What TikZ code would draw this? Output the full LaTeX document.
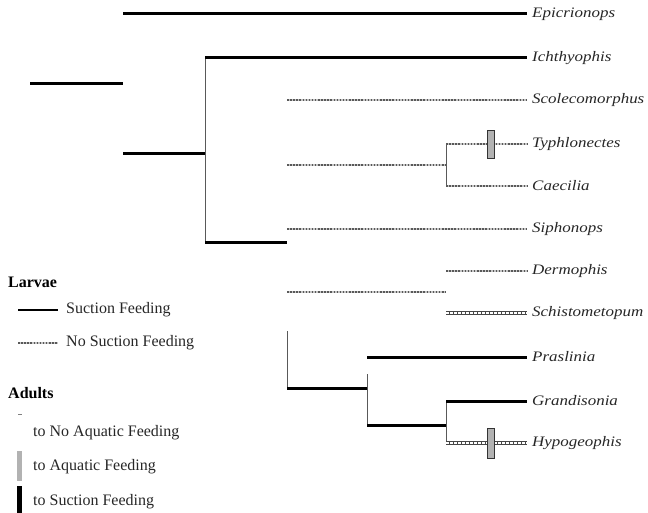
\documentclass[tikz,border=0pt]{standalone}
\usepackage{fontspec}
\setmainfont{Liberation Serif}
\newcommand{\wide}[1]{\scalebox{1.17}[1]{#1}}
\begin{document}
\begin{tikzpicture}[x=1pt,y=-1pt,
 suction/.style={line width=3pt, black},
 thinv/.style={line width=0.8pt, gray!70!black},
 nosuc/.style={line width=2.4pt, gray!45, postaction={draw, black!65, line width=2.4pt, dash pattern=on 1.5pt off 1.6pt}},
 hatch/.style={line width=4pt, gray!55!black, postaction={draw, white, line width=1.6pt, dash pattern=on 2.6pt off 1.4pt}},
 taxon/.style={anchor=west, font=\fontsize{14.5}{16}\selectfont\itshape, inner sep=0pt, text=black!85},
 legtext/.style={anchor=west, font=\fontsize{16}{18}\selectfont, inner sep=0pt, text=black!85},
 legtitle/.style={anchor=west, font=\fontsize{16}{18}\selectfont\bfseries, inner sep=0pt},
 aqua/.style={draw=gray!40!black, fill=gray!60, line width=0.6pt},
 ]
\useasboundingbox (0,0) rectangle (648,513);
% coordinates
\coordinate (r0) at (30,84);
\coordinate (r1) at (123,84);
\coordinate (e0) at (123,14);
\coordinate (n2) at (123,154);
\coordinate (n2e) at (205,154);
\coordinate (i0) at (205,58);
\coordinate (n3) at (205,243);
\coordinate (n3e) at (287,243);
\coordinate (s0) at (287,100);
\coordinate (tc0) at (287,165);
\coordinate (tc1) at (446,165);
\coordinate (t0) at (446,144);
\coordinate (c0) at (446,186);
\coordinate (si0) at (287,229);
\coordinate (ds0) at (287,292);
\coordinate (ds1) at (446,292);
\coordinate (d0) at (446,271);
\coordinate (sc0) at (446,313);
\coordinate (v4a) at (287,331);
\coordinate (v4b) at (287,388);
\coordinate (n5) at (367,388);
\coordinate (v5a) at (367,374);
\coordinate (p0) at (367,357);
\coordinate (v5b) at (367,425);
\coordinate (n6) at (446,425);
\coordinate (g0) at (446,401);
\coordinate (h0) at (446,443);
% taxa
\node[taxon] (Ep) at (532,14) {\wide{Epicrionops}};
\node[taxon] (Ic) at (532,58) {\wide{Ichthyophis}};
\node[taxon] (Sc) at (532,100) {\wide{Scolecomorphus}};
\node[taxon] (Ty) at (532,144) {\wide{Typhlonectes}};
\node[taxon] (Ca) at (532,186) {\wide{Caecilia}};
\node[taxon] (Si) at (532,229) {\wide{Siphonops}};
\node[taxon] (De) at (532,271) {\wide{Dermophis}};
\node[taxon] (Sh) at (532,313) {\wide{Schistometopum}};
\node[taxon] (Pr) at (532,357) {\wide{Praslinia}};
\node[taxon] (Gr) at (532,401) {\wide{Grandisonia}};
\node[taxon] (Hy) at (532,443) {\wide{Hypogeophis}};
\coordinate (Epe) at (527,14);
\coordinate (Ice) at (527,58);
\coordinate (Sce) at (527,100);
\coordinate (Tye) at (527,144);
\coordinate (Cae) at (527,186);
\coordinate (Sie) at (527,229);
\coordinate (Dee) at (527,271);
\coordinate (She) at (527,313);
\coordinate (Pre) at (527,357);
\coordinate (Gre) at (527,401);
\coordinate (Hye) at (527,443);
% vertical connectors
\draw[thinv] (i0) -- (n3);
\draw[thinv] (t0) -- (c0);
\draw[thinv] (v4a) -- (v4b);
\draw[thinv] (v5a) -- (v5b);
\draw[thinv] (g0) -- (h0);
% suction branches
\draw[suction] (r0) -- (r1);
\draw[suction] (e0) -- (Epe);
\draw[suction] (n2) -- (n2e);
\draw[suction] (i0) -- (Ice);
\draw[suction] (n3) -- (n3e);
\draw[suction] (v4b) -- (n5);
\draw[suction] (p0) -- (Pre);
\draw[suction] (v5b) -- (n6);
\draw[suction] (g0) -- (Gre);
% no suction branches
\draw[nosuc] (s0) -- (Sce);
\draw[nosuc] (tc0) -- (tc1);
\draw[nosuc] (t0) -- (Tye);
\draw[nosuc] (c0) -- (Cae);
\draw[nosuc] (si0) -- (Sie);
\draw[nosuc] (ds0) -- (ds1);
\draw[nosuc] (d0) -- (Dee);
\draw[hatch] (sc0) -- (She);
\draw[hatch] (h0) -- (Hye);
% adult transitions
\draw[aqua] (487,130) rectangle (494,158);
\draw[aqua] (487,428) rectangle (494,458);
% legend
\node[legtitle] (L1) at (8,282) {Larvae};
\coordinate (la) at (18,310);
\coordinate (lb) at (58,310);
\draw[line width=2.5pt] (la) -- (lb);
\node[legtext] (L2) at (66,310) {Suction Feeding};
\coordinate (lc) at (18,343);
\coordinate (ld) at (58,343);
\draw[nosuc] (lc) -- (ld);
\node[legtext] (L3) at (66,343) {No Suction Feeding};
\node[legtitle] (A1) at (8,393) {Adults};
\draw[gray, line width=0.6pt] (18,414) -- (22,414);
\node[legtext] (A2) at (33,433) {to No Aquatic Feeding};
\fill[gray!60] (17,451) rectangle (22,481);
\node[legtext] (A3) at (33,467) {to Aquatic Feeding};
\fill[black] (17,486) rectangle (22,513);
\node[legtext] (A4) at (33,502) {to Suction Feeding};
\end{tikzpicture}
\end{document}
